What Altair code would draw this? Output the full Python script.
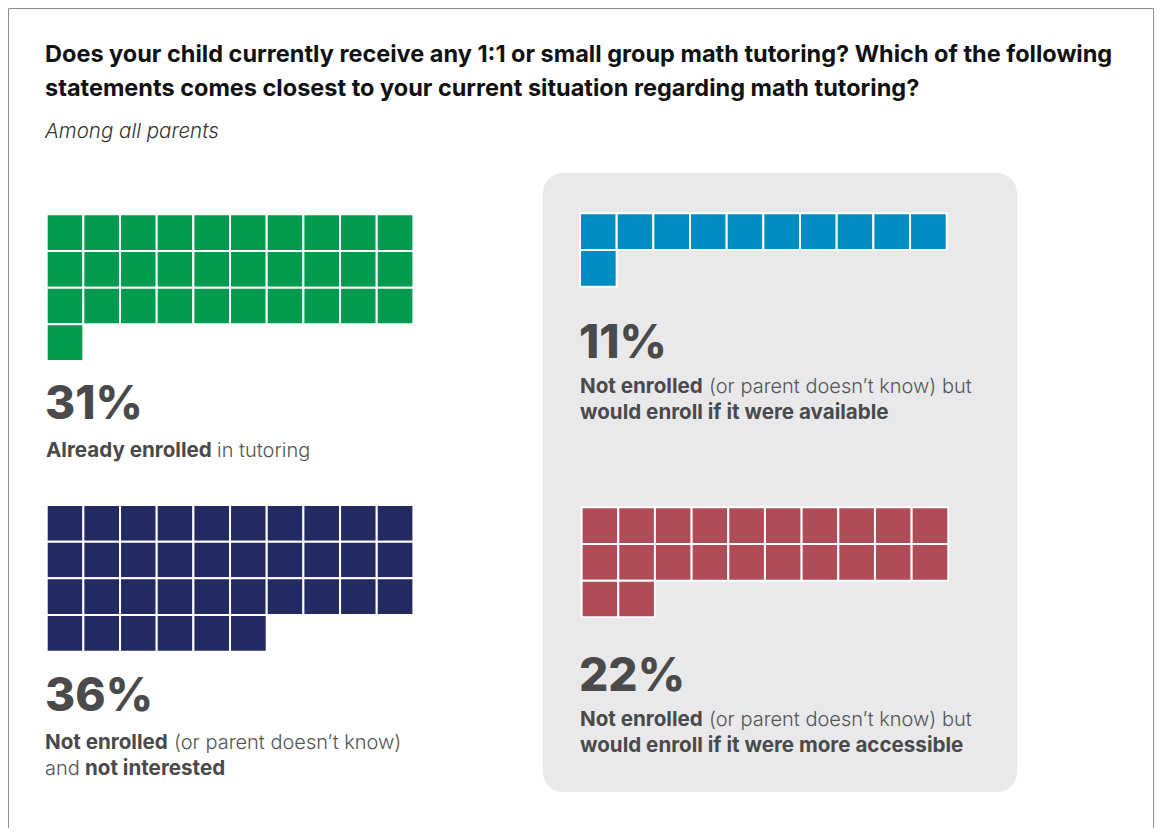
import altair as alt
import pandas as pd

# ---------------- data ----------------
title_lines = [
    "Does your child currently receive any 1:1 or small group math tutoring? Which of the following",
    "statements comes closest to your current situation regarding math tutoring?",
]
subtitle = "Among all parents"

groups = [
    "Already enrolled",
    "Not enrolled and not interested",
    "Would enroll if available",
    "Would enroll if more accessible",
]
values = [31, 36, 11, 22]
colors = ["#009b4e", "#222a62", "#008dc2", "#b04b58"]

# label text runs per group: (line, text, bold)
label_runs = [
    [(0, "Already enrolled", True), (0, "in tutoring", False)],
    [(0, "Not enrolled", True), (0, "(or parent doesn\u2019t know)", False),
     (1, "and", False), (1, "not interested", True)],
    [(0, "Not enrolled", True), (0, "(or parent doesn\u2019t know) but", False),
     (1, "would enroll if it were available", True)],
    [(0, "Not enrolled", True), (0, "(or parent doesn\u2019t know) but", False),
     (1, "would enroll if it were more accessible", True)],
]

# ---------------- layout (page pixels) ----------------
W, H = 1146, 820
ncols = 10
pitch = 36.67
grid_x = [46.7, 46.7, 580.0, 581.6]
grid_y = [214.3, 505.0, 213.3, 507.3]
pct_x = [45, 45, 579, 579]
pct_base = [419, 711, 358, 691]
label_base = [[457], [749, 775], [393, 419], [726, 752]]
run_x = [
    [46, 217],
    [45, 174, 45, 85],
    [580, 709, 580],
    [580, 709, 580],
]

FONT = "Inter"
TEXT_COL = "#4a4a4a"

# ---------------- tables ----------------
cells = []
for g, (name, v) in enumerate(zip(groups, values)):
    for i in range(v):
        c, r = i % ncols, i // ncols
        x = grid_x[g] + c * pitch
        y = grid_y[g] + r * pitch
        cells.append({"group": name, "x": x, "x2": x + pitch, "y": y, "y2": y + pitch})
cells = pd.DataFrame(cells)

pcts = pd.DataFrame({
    "text": [f"{v}%" for v in values],
    "x": pct_x,
    "y": pct_base,
})

runs = []
for g, rl in enumerate(label_runs):
    for k, (line, txt, bold) in enumerate(rl):
        runs.append({"text": txt, "bold": bold, "x": run_x[g][k], "y": label_base[g][line]})
runs = pd.DataFrame(runs)

titles = pd.DataFrame({"text": title_lines, "x": [45, 45], "y": [62, 96]})
subs = pd.DataFrame({"text": [subtitle], "x": [45], "y": [138]})

xs = alt.Scale(domain=[8, 8 + W], nice=False, zero=False)
ys = alt.Scale(domain=[8, 8 + H], nice=False, zero=False, reverse=True)

def X(f="x"):
    return alt.X(f"{f}:Q", scale=xs, axis=None)

def Y(f="y"):
    return alt.Y(f"{f}:Q", scale=ys, axis=None)

frame = alt.Chart(pd.DataFrame({"a": [0]})).mark_rect(
    fill=None, stroke="#8e8e8e", strokeWidth=1
).encode(x=alt.value(0.5), x2=alt.value(1145.5), y=alt.value(0.5), y2=alt.value(900))

panel = alt.Chart(pd.DataFrame({"a": [0]})).mark_rect(
    color="#e9e9ec", cornerRadius=20
).encode(x=alt.value(543 - 8), x2=alt.value(1017 - 8), y=alt.value(173 - 8), y2=alt.value(792 - 8))

waffle = alt.Chart(cells).mark_rect(stroke="white", strokeWidth=2).encode(
    x=X("x"), x2="x2", y=Y("y"), y2="y2",
    color=alt.Color("group:N", scale=alt.Scale(domain=groups, range=colors), legend=None),
)

title_m = alt.Chart(titles).mark_text(
    align="left", baseline="alphabetic", font=FONT, fontSize=23.5, fontWeight="bold", color="#111111"
).encode(x=X(), y=Y(), text="text:N")

sub_m = alt.Chart(subs).mark_text(
    align="left", baseline="alphabetic", font=FONT, fontSize=20.5, fontStyle="italic",
    fontWeight=300, color="#333333"
).encode(x=X(), y=Y(), text="text:N")

pct_m = alt.Chart(pcts).mark_text(
    align="left", baseline="alphabetic", font=FONT, fontSize=46, fontWeight=800, color=TEXT_COL
).encode(x=X(), y=Y(), text="text:N")

bold_m = alt.Chart(runs).transform_filter("datum.bold").mark_text(
    align="left", baseline="alphabetic", font=FONT, fontSize=20.6, fontWeight="bold", color=TEXT_COL
).encode(x=X(), y=Y(), text="text:N")

light_m = alt.Chart(runs).transform_filter("!datum.bold").mark_text(
    align="left", baseline="alphabetic", font=FONT, fontSize=20, fontWeight=300, color="#555555"
).encode(x=X(), y=Y(), text="text:N")

chart = alt.layer(frame, panel, waffle, title_m, sub_m, pct_m, bold_m, light_m).properties(
    width=W, height=H, padding=0, autosize=alt.AutoSizeParams(type="none"), background="white"
).configure_view(stroke=None)

chart.save("out.html", embed_options={"renderer": "svg", "actions": False})
